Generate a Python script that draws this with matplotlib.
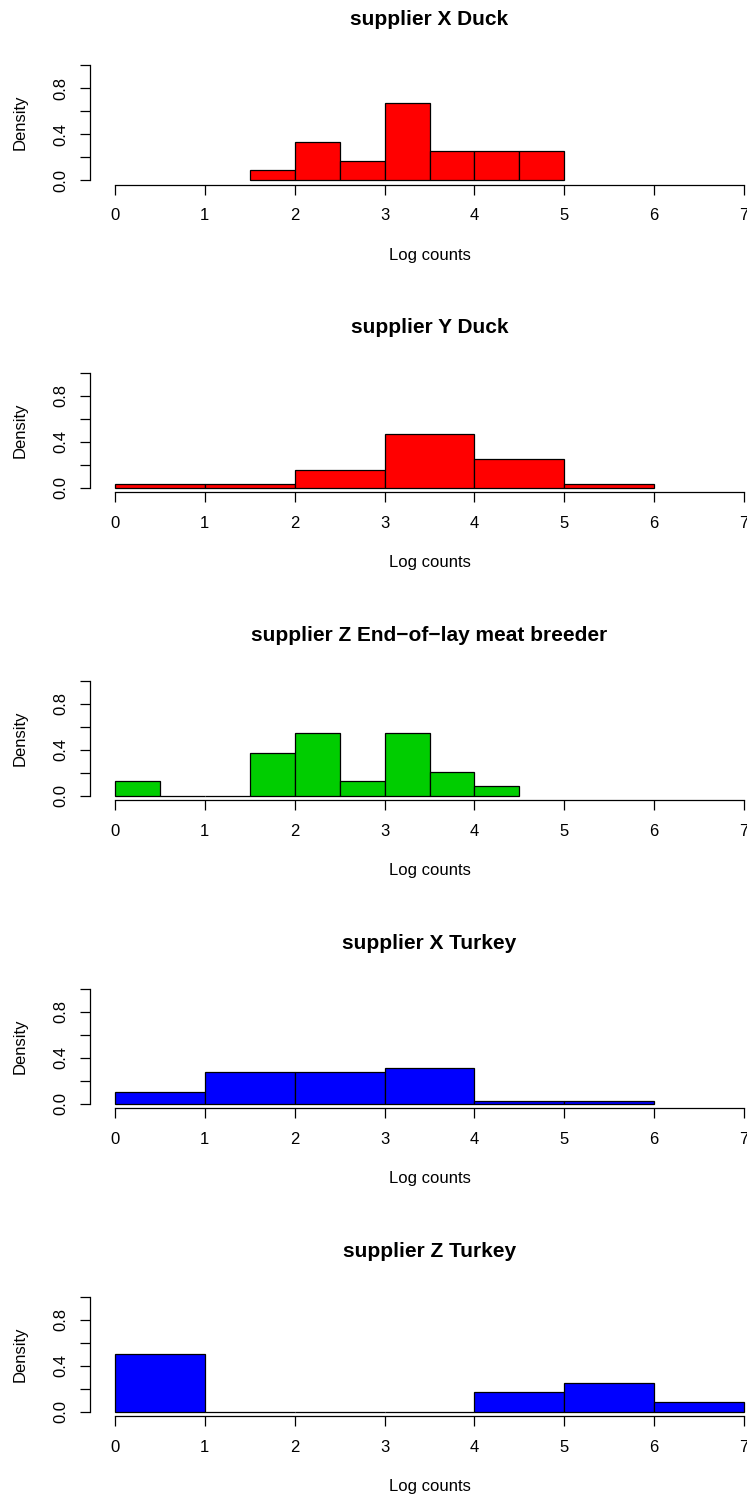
import numpy as np
import matplotlib
matplotlib.use("Agg")
import matplotlib.pyplot as plt

plt.rcParams.update({
    "font.family": ["Liberation Sans", "DejaVu Sans"],
    "font.size": 12,
    "axes.linewidth": 0.9,
})

# panel titles, bin edges and histogram densities
titles = [
    "supplier X Duck",
    "supplier Y Duck",
    "supplier Z End\u2212of\u2212lay meat breeder",
    "supplier X Turkey",
    "supplier Z Turkey",
]
colors = ["#ff0000", "#ff0000", "#00cd00", "#0000ff", "#0000ff"]

edges_x_duck = [1.5, 2.0, 2.5, 3.0, 3.5, 4.0, 4.5, 5.0]
dens_x_duck = [0.083, 0.333, 0.167, 0.667, 0.25, 0.25, 0.25]

edges_y_duck = [0, 1, 2, 3, 4, 5, 6]
dens_y_duck = [0.038, 0.038, 0.155, 0.472, 0.255, 0.038]

edges_z_breeder = [0, 0.5, 1.0, 1.5, 2.0, 2.5, 3.0, 3.5, 4.0, 4.5]
dens_z_breeder = [0.125, 0, 0, 0.375, 0.542, 0.125, 0.542, 0.208, 0.083]

edges_x_turkey = [0, 1, 2, 3, 4, 5, 6]
dens_x_turkey = [0.098, 0.275, 0.275, 0.314, 0.020, 0.020]

edges_z_turkey = [0, 1, 2, 3, 4, 5, 6, 7]
dens_z_turkey = [0.5, 0, 0, 0, 0.167, 0.25, 0.083]

edges_all = [edges_x_duck, edges_y_duck, edges_z_breeder, edges_x_turkey, edges_z_turkey]
dens_all = [dens_x_duck, dens_y_duck, dens_z_breeder, dens_x_turkey, dens_z_turkey]

x_ticks = [0, 1, 2, 3, 4, 5, 6, 7]
y_ticks = [0, 0.2, 0.4, 0.6, 0.8, 1.0]
y_ticklabels = ["0.0", "", "0.4", "", "0.8", ""]

W, H = 747, 1497
fig = plt.figure(figsize=(W / 100, H / 100), dpi=100)

# plot region in pixels (R-style, axis ranges padded by 4%)
LEFT, RIGHT = 89.8, 769.2
TOP, BOTTOM = 60.4, 184.6
STEP = 307.9

for i in range(5):
    off = i * STEP
    ax = fig.add_axes([LEFT / W, (H - BOTTOM - off) / H,
                       (RIGHT - LEFT) / W, (BOTTOM - TOP) / H])
    e = np.array(edges_all[i])
    ax.bar(e[:-1], dens_all[i], width=np.diff(e), align="edge",
           color=colors[i], edgecolor="black", linewidth=0.9)
    ax.set_xlim(-0.28, 7.28)
    ax.set_ylim(-0.04, 1.04)
    for s in ("top", "right"):
        ax.spines[s].set_visible(False)
    ax.spines["left"].set_bounds(0, 1)
    ax.spines["bottom"].set_bounds(0, 7)
    ax.set_xticks(x_ticks)
    ax.set_yticks(y_ticks)
    ax.set_yticklabels(y_ticklabels, rotation=90, va="center")
    ax.tick_params(length=7.2, width=0.9, direction="out")
    ax.tick_params(axis="x", pad=10)
    ax.tick_params(axis="y", pad=8.5)
    ax.set_xlabel("Log counts")
    ax.xaxis.set_label_coords(0.5, -0.567)
    ax.xaxis.label.set_va("center")
    ax.set_ylabel("Density")
    ax.yaxis.set_label_coords(-0.1027, 0.5)
    ax.yaxis.label.set_va("center")
    ax.text(0.5, 1.33, titles[i], transform=ax.transAxes, ha="center",
            va="center", fontweight="bold", fontsize=15)

fig.savefig("out.png", dpi=100)
